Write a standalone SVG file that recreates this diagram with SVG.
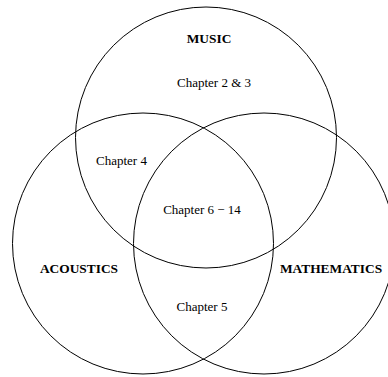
<svg xmlns="http://www.w3.org/2000/svg" width="388" height="377" viewBox="0 0 388 377">
<style>
.c{fill:none;stroke:#000;stroke-width:1}
.t{font-family:"Liberation Serif","Times New Roman",serif;font-size:13px;fill:#000;text-anchor:middle}
.b{font-weight:bold;font-size:13.4px}
</style>
<rect width="388" height="377" fill="#fff"/>
<g id="music"><circle class="c" cx="206" cy="137.5" r="130.5"/><text class="t b" x="209" y="43">MUSIC</text></g>
<g id="acoustics"><circle class="c" cx="143" cy="243.5" r="130.5"/><text class="t b" x="79" y="273">ACOUSTICS</text></g>
<g id="mathematics"><circle class="c" cx="264" cy="243.5" r="130.5"/><text class="t b" x="331" y="273">MATHEMATICS</text></g>
<g id="labels">
<text class="t" x="214" y="87">Chapter 2 &amp; 3</text>
<text class="t" x="121.5" y="165">Chapter 4</text>
<text class="t" x="202" y="214">Chapter 6 − 14</text>
<text class="t" x="202" y="311">Chapter 5</text>
</g>
</svg>
